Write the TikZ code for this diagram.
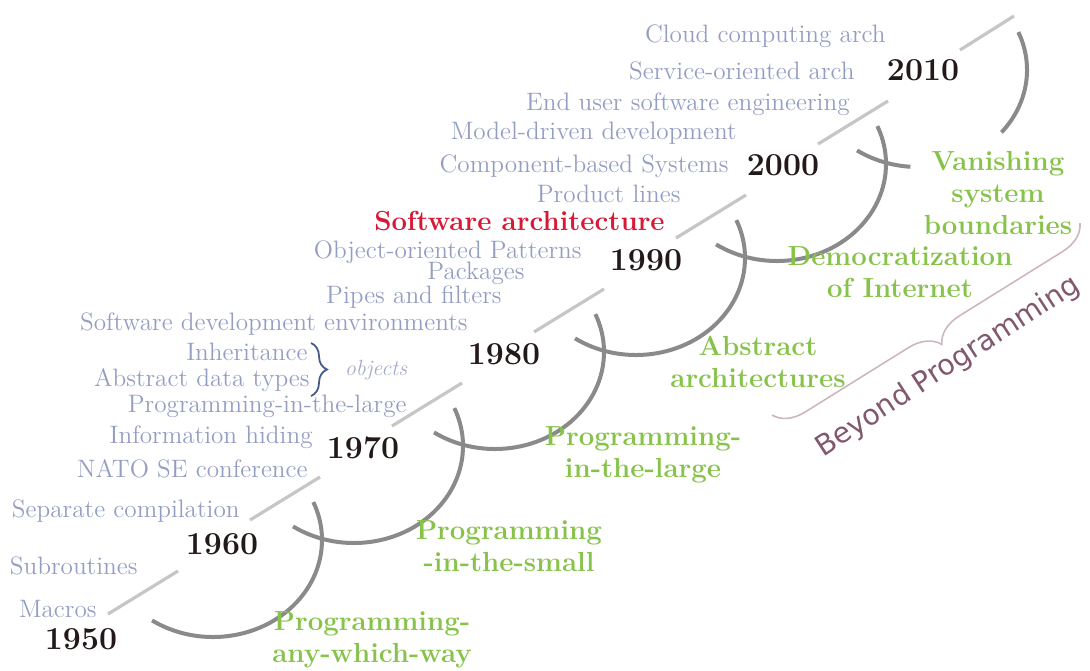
\documentclass[tikz,border=0pt]{standalone}
\usepackage{fontspec}
\newfontfamily\beyondfont{DejaVu Sans}
\usetikzlibrary{decorations.pathreplacing}
\definecolor{labelblue}{RGB}{148,158,194}
\definecolor{objblue}{RGB}{70,90,140}
\definecolor{objgrey}{RGB}{165,170,200}
\definecolor{eragreen}{RGB}{135,195,75}
\definecolor{archred}{RGB}{215,25,55}
\definecolor{yearblack}{RGB}{35,25,25}
\definecolor{arcgrey}{RGB}{138,138,138}
\definecolor{dashgrey}{RGB}{198,198,198}
\definecolor{bracepink}{RGB}{205,182,195}
\definecolor{beyondmauve}{RGB}{130,88,110}

\begin{document}
\begin{tikzpicture}[x=0.5pt,y=-0.5pt]
 \tikzset{yearlbl/.style={inner sep=0pt,text=yearblack,font=\fontsize{16}{18}\selectfont\bfseries},
  itemlbl/.style={inner sep=0pt,anchor=east,text=labelblue,font=\fontsize{12.6}{14}\selectfont},
  eralbl/.style={inner sep=0pt,align=center,text=eragreen,font=\fontsize{13.8}{16}\selectfont\bfseries},
  decadearc/.style={arcgrey,line width=2pt},
  tickline/.style={dashgrey,line width=1.6pt},
  bracestyle/.style={decorate,decoration={brace,amplitude=#1}}}
 \useasboundingbox (0,0) rectangle (1090,670);

 \coordinate (C0) at (213,540);
 \coordinate (C1) at (354,446);
 \coordinate (C2) at (495,352);
 \coordinate (C3) at (636,258);
 \coordinate (C4) at (777,164);
 \coordinate (C5) at (918,70);

 \draw[decadearc] (C0) ++(124:109 and 97) arc[start angle=124,end angle=-23,x radius=109,y radius=97];
 \draw[decadearc] (C1) ++(124:109 and 97) arc[start angle=124,end angle=-23,x radius=109,y radius=97];
 \draw[decadearc] (C2) ++(124:109 and 97) arc[start angle=124,end angle=-23,x radius=109,y radius=97];
 \draw[decadearc] (C3) ++(124:109 and 97) arc[start angle=124,end angle=-23,x radius=109,y radius=97];
 \draw[decadearc] (C4) ++(124:109 and 97) arc[start angle=124,end angle=-23,x radius=109,y radius=97];
 \draw[decadearc] (C5) ++(124:109 and 97) arc[start angle=124,end angle=94,x radius=109,y radius=97];
 \draw[decadearc] (C5) ++(40:109 and 97) arc[start angle=40,end angle=-23,x radius=109,y radius=97];

 \draw[tickline] (108,614) -- (178,571);
 \draw[tickline] (250,520) -- (320,477);
 \draw[tickline] (392,426) -- (462,383);
 \draw[tickline] (534,332) -- (604,289);
 \draw[tickline] (676,238) -- (746,195);
 \draw[tickline] (818,144) -- (888,101);
 \draw[tickline] (960,50) -- (1014,16);

 \node[yearlbl] (Y50) at (81,639) {1950};
 \node[yearlbl] (Y60) at (222,544) {1960};
 \node[yearlbl] (Y70) at (363,448) {1970};
 \node[yearlbl] (Y80) at (504,354) {1980};
 \node[yearlbl] (Y90) at (646,260) {1990};
 \node[yearlbl] (Y00) at (783,165) {2000};
 \node[yearlbl] (Y10) at (923,70) {2010};

 \node[itemlbl] (Mac) at (97,609) {Macros};
 \node[itemlbl] (Sub) at (138,566) {Subroutines};
 \node[itemlbl] (Sep) at (240,511) {Separate compilation};
 \node[itemlbl] (Nato) at (308,469) {NATO SE conference};
 \node[itemlbl] (Hid) at (313,437) {Information hiding};
 \node[itemlbl] (PitL) at (407,406) {Programming-in-the-large};
 \node[itemlbl] (ADT) at (310,380) {Abstract data types};
 \node[itemlbl] (Inh) at (308,352) {Inheritance};
 \node[itemlbl] (SDE) at (468,324) {Software development environments};
 \node[itemlbl] (Pip) at (502,297) {Pipes and filters};
 \node[itemlbl] (Pkg) at (525,273) {Packages};
 \node[itemlbl] (OOP) at (582,252) {Object-oriented Patterns};
 \node[itemlbl,text=archred,font=\fontsize{13.8}{16}\selectfont\bfseries] (SwA) at (665,221) {Software architecture};
 \node[itemlbl] (PL) at (681,194) {Product lines};
 \node[itemlbl] (CBS) at (729,166) {Component-based Systems};
 \node[itemlbl] (MDD) at (737,133) {Model-driven development};
 \node[itemlbl] (EUSE) at (850,104) {End user software engineering};
 \node[itemlbl] (SOA) at (855,71) {Service-oriented arch};
 \node[itemlbl] (Cloud) at (886,36) {Cloud computing arch};

 \coordinate (ObT) at (311,343);
 \coordinate (ObB) at (311,396);
 \draw[objblue,line width=0.9pt,bracestyle=8pt] (ObT) -- (ObB);
 \node[inner sep=0pt,text=objgrey,font=\fontsize{11}{13}\selectfont\itshape] (Obj) at (376,370) {objects};

 \node[eralbl] (E50) at (372,640) {Programming-\\any-which-way};
 \node[eralbl] (E60) at (509,546) {Programming\\-in-the-small};
 \node[eralbl] (E70) at (643,455) {Programming-\\in-the-large};
 \node[eralbl] (E80) at (758,362) {Abstract\\architectures};
 \node[eralbl] (E90) at (900,272) {Democratization\\of Internet};
 \node[eralbl] (E00) at (998,193) {Vanishing\\system\\boundaries};

 \coordinate (BrL) at (772,415);
 \coordinate (BrR) at (1080,223);
 \draw[bracepink,line width=0.8pt,decorate,decoration={brace,mirror,amplitude=15pt}] (BrL) -- (BrR);
 \node[rotate=33,inner sep=0pt,text=beyondmauve,font=\beyondfont\fontsize{14.2}{17}\selectfont] (Bey) at (948,367) {Beyond Programming};
\end{tikzpicture}
\end{document}
